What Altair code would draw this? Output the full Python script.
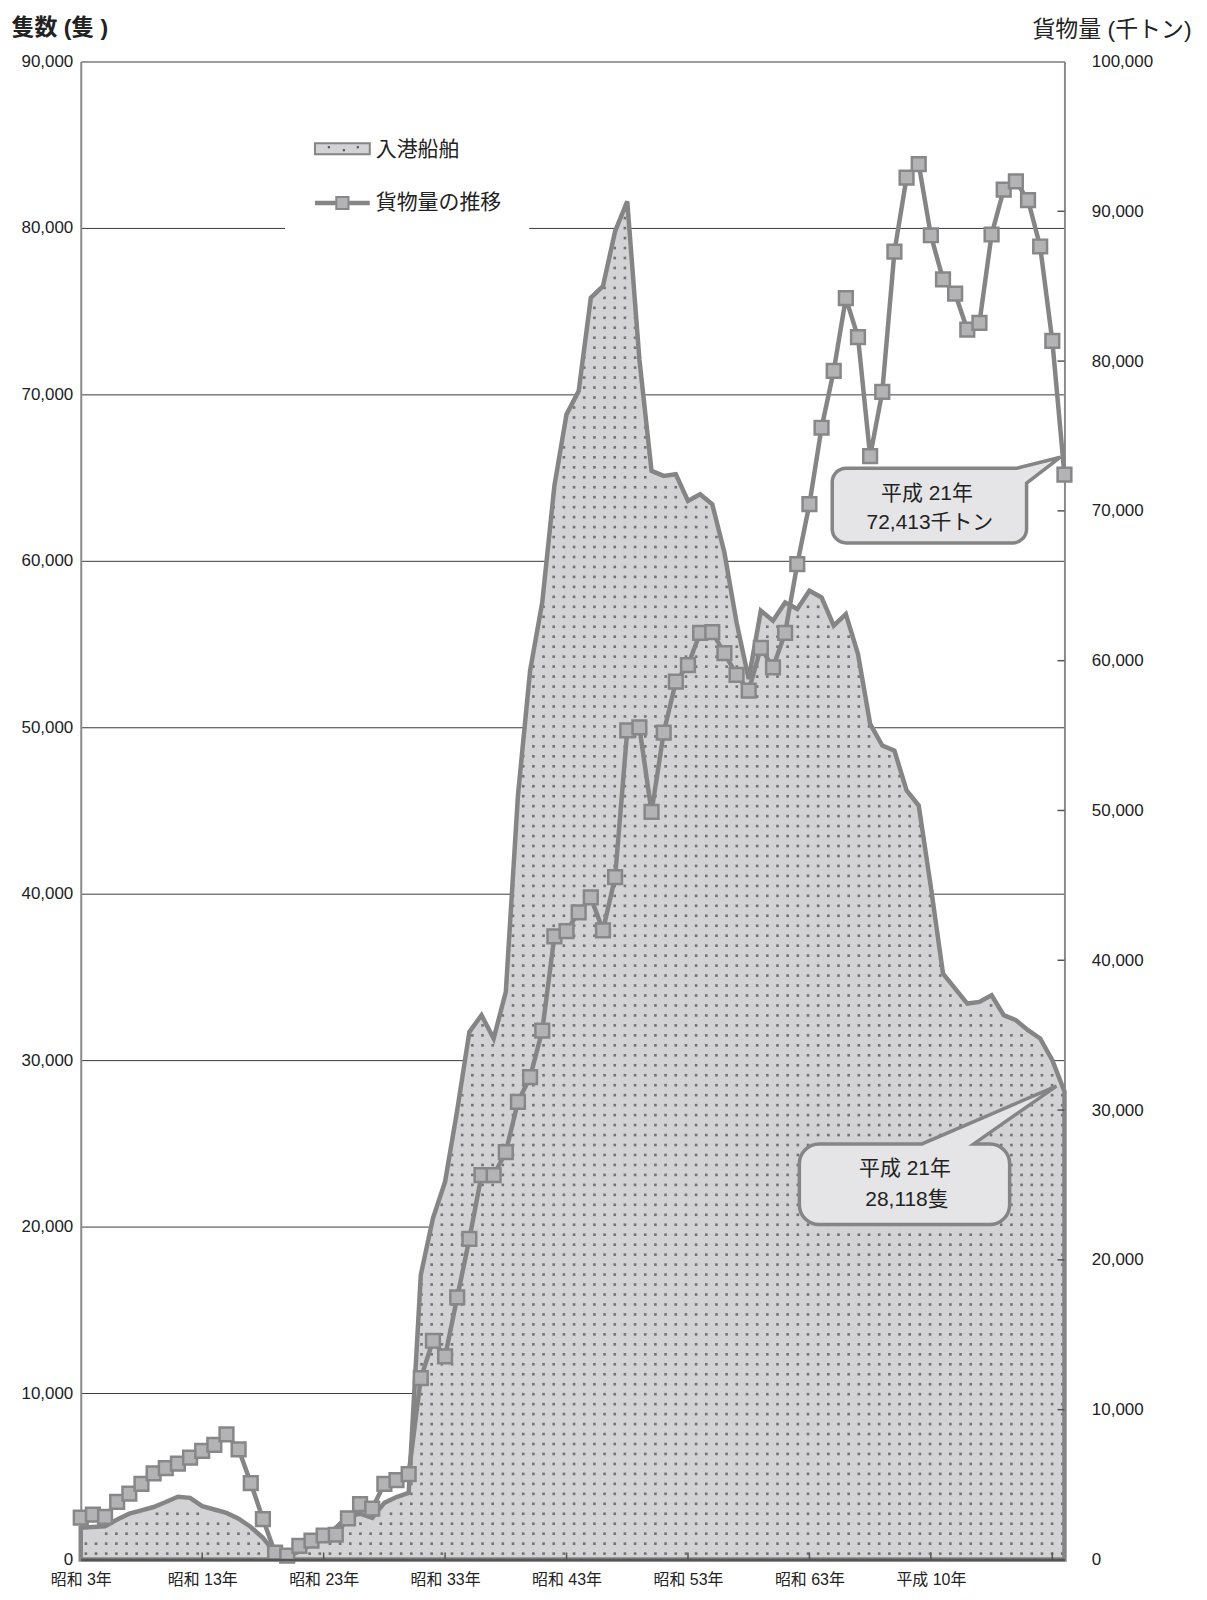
import json
import pandas as pd
import altair as alt

# ---------------- data ----------------
years = list(range(1928, 2010))
ships = [1900, 1950, 2000, 2400, 2750, 2950, 3150, 3450, 3770, 3700,
         3200, 3000, 2800, 2450, 1950, 1300, 400, 150, 500, 900,
         1400, 1900, 2600, 2750, 2500, 3400, 3750, 4000, 17100, 20500,
         22700, 27000, 31700, 32700, 31300, 34100, 45900, 53400, 57500, 64500,
         68800, 70200, 75800, 76500, 79800, 81600, 72100, 65400, 65100, 65200,
         63600, 64000, 63400, 60500, 56300, 52900, 57000, 56400, 57500, 57100,
         58200, 57800, 56100, 56800, 54400, 50200, 48900, 48600, 46200, 45300,
         40400, 35200, 34300, 33400, 33500, 33900, 32700, 32400, 31800, 31300,
         30000, 28118]
cargo = [2800, 3000, 2850, 3850, 4400, 5050, 5750, 6100, 6400, 6800,
         7250, 7650, 8350, 7350, 5100, 2700, 450, 250, 900, 1250,
         1600, 1650, 2750, 3700, 3400, 5050, 5300, 5700, 12100, 14600,
         13550, 17500, 21400, 25650, 25650, 27200, 30550, 32200, 35300, 41600,
         41950, 43200, 44200, 42000, 45550, 55350, 55550, 49900, 55200, 58600,
         59700, 61850, 61900, 60500, 59050, 58000, 60850, 59550, 61850, 66450,
         70450, 75550, 79350, 84200, 81600, 73650, 77950, 87300, 92250, 93150,
         88400, 85450, 84500, 82100, 82550, 88450, 91450, 92000, 90750, 87650,
         81350, 72413]

x_label_years = [1928, 1938, 1948, 1958, 1968, 1978, 1988, 1998]
x_labels = ['昭和 3年', '昭和 13年', '昭和 23年', '昭和 33年', '昭和 43年',
            '昭和 53年', '昭和 63年', '平成 10年']
x_tick_years = [1938, 1948, 1958, 1968, 1978, 1988, 1998, 2008]
left_ticks = [0, 10000, 20000, 30000, 40000, 50000, 60000, 70000, 80000, 90000]
right_ticks = [0, 10000, 20000, 30000, 40000, 50000, 60000, 70000, 80000, 90000, 100000]
legend_labels = ['入港船舶', '貨物量の推移']
callout_ships = ['平成 21年', '28,118隻']
callout_cargo = ['平成 21年', '72,413千トン']
left_title = '隻数 (隻 )'
right_title = '貨物量 (千トン)'

# ---------------- styles ----------------
W, H = 987, 1503
FONT = "'Liberation Sans', 'Noto Sans CJK JP', sans-serif"
TXT = '#222222'
LINE_GRAY = '#858585'
AREA_FILL = '#d3d3d5'
SQ_FILL = '#b3b3b5'
SQ_STROKE = '#878787'
BALLOON_FILL = '#e5e5e7'
DOT_STEP_YEARS = 0.8375
DOT_STEP_VALUE = 598.8

df = pd.DataFrame({'year': years, 'ships': ships, 'cargo': cargo})
df['idx'] = list(range(len(df)))
last = len(df) - 1

label_expr = (json.dumps(x_labels, ensure_ascii=False) + '[indexof(' +
              json.dumps(x_label_years) + ', datum.value)]')

x_axis = alt.Axis(values=x_label_years, labelExpr=label_expr, title=None, grid=False,
                  ticks=False, domainColor='#555555', domainWidth=2.5, labelFont=FONT,
                  labelFontSize=16, labelColor=TXT, labelPadding=12, labelFlush=False,
                  labelOverlap=False, zindex=1)
X = alt.X('year:Q', scale=alt.Scale(domain=[years[0], years[-1]], nice=False, zero=False),
          axis=x_axis)

left_axis = alt.Axis(values=left_ticks, format=',d', grid=True, gridColor='#3a3a3a',
                     gridWidth=1, ticks=False, domainColor='#8a8a8a', domainWidth=2,
                     labelFont=FONT, labelFontSize=17, labelColor=TXT, labelPadding=8,
                     title=left_title, titleAngle=0, titleAlign='left',
                     titleBaseline='middle', titleX=-70, titleY=-34, titleFont=FONT,
                     titleFontSize=23, titleFontWeight='bold', titleColor=TXT)
YL = alt.Y('ships:Q', scale=alt.Scale(domain=[0, 90000], nice=False), axis=left_axis)

right_axis = alt.Axis(orient='right', values=right_ticks, format=',d', grid=False,
                      ticks=False, domainColor='#8a8a8a', domainWidth=2,
                      labelFont=FONT, labelFontSize=17, labelColor=TXT, labelPadding=27,
                      title=right_title, titleAngle=0, titleAlign='right',
                      titleBaseline='middle', titleX=127, titleY=-32, titleFont=FONT,
                      titleFontSize=23, titleFontWeight='normal', titleColor=TXT)
YR = alt.Y('cargo:Q', scale=alt.Scale(domain=[0, 100000], nice=False), axis=right_axis)

base = alt.Chart(df)
one = pd.DataFrame({'k': [0]})

# ---- ships (left axis) ----
area = base.mark_area(color=AREA_FILL, opacity=1).encode(x=X, y=YL)

lookup_src = alt.InlineData(values=df[['idx', 'ships']].to_dict(orient='records'))
dots = (alt.Chart(alt.sequence(0.42, last, DOT_STEP_YEARS, as_='xd'))
        .transform_calculate(i0='floor(datum.xd)')
        .transform_calculate(i1=f'min(datum.i0 + 1, {last})')
        .transform_lookup(lookup='i0', from_=alt.LookupData(data=lookup_src, key='idx', fields=['ships']), as_=['s0'])
        .transform_lookup(lookup='i1', from_=alt.LookupData(data=lookup_src, key='idx', fields=['ships']), as_=['s1'])
        .transform_calculate(lim='datum.s0 + (datum.s1 - datum.s0) * (datum.xd - datum.i0)')
        .transform_calculate(ys=f'sequence(350, datum.lim - 450, {DOT_STEP_VALUE})')
        .transform_flatten(['ys'])
        .transform_calculate(year=f'{years[0]} + datum.xd', ships='datum.ys')
        .mark_square(size=7, color='#737373', opacity=1)
        .encode(x=X, y=YL))

outline = base.mark_area(fillOpacity=0, stroke=LINE_GRAY, strokeWidth=4.5).encode(x=X, y=YL)

xticks = (alt.Chart(pd.DataFrame({'year': x_tick_years}))
          .mark_rule(color='#555555', strokeWidth=1.5)
          .encode(x=X, y=alt.value(H - 7), y2=alt.value(H)))

# legend
leg_bg = alt.Chart(one).mark_rect(fill='white', strokeWidth=0).encode(
    x=alt.value(205), x2=alt.value(450), y=alt.value(48), y2=alt.value(182))
leg_area = alt.Chart(one).mark_rect(fill=AREA_FILL, stroke=LINE_GRAY, strokeWidth=2).encode(
    x=alt.value(235), x2=alt.value(290), y=alt.value(82), y2=alt.value(93))
leg_dot1 = alt.Chart(one).mark_square(size=5, color='#5a5a5a', opacity=1).encode(
    x=alt.value(249), y=alt.value(86))
leg_dot2 = alt.Chart(one).mark_square(size=5, color='#5a5a5a', opacity=1).encode(
    x=alt.value(264), y=alt.value(89))
leg_dot3 = alt.Chart(one).mark_square(size=5, color='#5a5a5a', opacity=1).encode(
    x=alt.value(278), y=alt.value(86))
leg_line = alt.Chart(one).mark_rule(color=LINE_GRAY, strokeWidth=4.5).encode(
    x=alt.value(235), x2=alt.value(290), y=alt.value(142))
leg_sq = alt.Chart(one).mark_point(shape='square', size=150, filled=True, fill=SQ_FILL,
                                   stroke=SQ_STROKE, strokeWidth=2, opacity=1).encode(
    x=alt.value(262.5), y=alt.value(142))
leg_t1 = alt.Chart(one).mark_text(font=FONT, fontSize=21, color=TXT, align='left',
                                  baseline='middle').encode(
    x=alt.value(296), y=alt.value(89), text=alt.value(legend_labels[0]))
leg_t2 = alt.Chart(one).mark_text(font=FONT, fontSize=21, color=TXT, align='left',
                                  baseline='middle').encode(
    x=alt.value(296), y=alt.value(142), text=alt.value(legend_labels[1]))

# ships callout (anchored at the last ships value)
BAL_S = ('M -246 52.6 L -143 52.6 L -8 -5.4 L -91 52.6 L -75 52.6 '
         'A 20 20 0 0 1 -55 72.6 L -55 113.6 A 20 20 0 0 1 -75 133.6 '
         'L -246 133.6 A 20 20 0 0 1 -266 113.6 L -266 72.6 A 20 20 0 0 1 -246 52.6 Z')
cs = pd.DataFrame({'year': [years[-1]], 'ships': [ships[-1]],
                   'l1': [callout_ships[0]], 'l2': [callout_ships[1]]})
cs_bal = alt.Chart(cs).mark_point(shape=BAL_S, size=4, filled=True, fill=BALLOON_FILL,
                                  stroke=LINE_GRAY, strokeWidth=3.5, opacity=1).encode(x=X, y=YL)
cs_t1 = alt.Chart(cs).mark_text(font=FONT, fontSize=21, color=TXT, dx=-160, dy=78,
                                baseline='middle').encode(x=X, y=YL, text='l1:N')
cs_t2 = alt.Chart(cs).mark_text(font=FONT, fontSize=21, color=TXT, dx=-158, dy=109,
                                baseline='middle').encode(x=X, y=YL, text='l2:N')

left = alt.layer(area, dots, outline, xticks, leg_bg, leg_area, leg_dot1, leg_dot2,
                 leg_dot3, leg_line, leg_sq, leg_t1, leg_t2, cs_bal, cs_t1, cs_t2)

# ---- cargo (right axis) ----
rticks = (alt.Chart(pd.DataFrame({'cargo': right_ticks[1:-1]}))
          .mark_rule(color='#555555', strokeWidth=1.5)
          .encode(y=YR, x=alt.value(W - 7), x2=alt.value(W)))
line = base.mark_line(color=LINE_GRAY, strokeWidth=4.5).encode(x=X, y=YR)
pts = base.mark_point(shape='square', size=190, filled=True, fill=SQ_FILL,
                      stroke=SQ_STROKE, strokeWidth=2.5, opacity=1).encode(x=X, y=YR)

BAL_C = ('M -219 -6.6 L -48 -6.6 L -4 -17.6 L -38 8.4 L -38 54.4 '
         'A 14 14 0 0 1 -52 68.4 L -219 68.4 A 14 14 0 0 1 -233 54.4 '
         'L -233 7.4 A 14 14 0 0 1 -219 -6.6 Z')
cc = pd.DataFrame({'year': [years[-1]], 'cargo': [cargo[-1]],
                   'l1': [callout_cargo[0]], 'l2': [callout_cargo[1]]})
cc_bal = alt.Chart(cc).mark_point(shape=BAL_C, size=4, filled=True, fill=BALLOON_FILL,
                                  stroke=LINE_GRAY, strokeWidth=3.5, opacity=1).encode(x=X, y=YR)
cc_t1 = alt.Chart(cc).mark_text(font=FONT, fontSize=21, color=TXT, dx=-138, dy=19,
                                baseline='middle').encode(x=X, y=YR, text='l1:N')
cc_t2 = alt.Chart(cc).mark_text(font=FONT, fontSize=21, color=TXT, dx=-135, dy=48,
                                baseline='middle').encode(x=X, y=YR, text='l2:N')

right = alt.layer(rticks, line, pts, cc_bal, cc_t1, cc_t2)

chart = (alt.layer(left, right)
         .resolve_scale(y='independent')
         .properties(width=W, height=H,
                     autosize=alt.AutoSizeParams(type='none'),
                     padding={'left': 73, 'top': 51, 'right': 135, 'bottom': 37})
         .configure_view(stroke=None))

chart.save("out.html", embed_options={"renderer": "svg", "actions": False})
